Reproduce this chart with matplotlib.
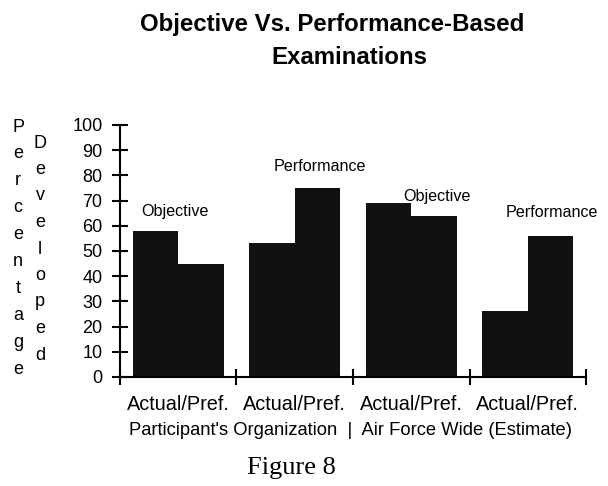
import numpy as np
import matplotlib
matplotlib.use('Agg')
import matplotlib.pyplot as plt

plt.rcParams['font.family'] = ['Liberation Sans', 'DejaVu Sans']

# グループ (Actual/Pref. の組)
groups = ['Actual/Pref.', 'Actual/Pref.', 'Actual/Pref.', 'Actual/Pref.']
actual = [58, 53, 69, 26]
preferred = [45, 75, 64, 56]
group_labels = ['Objective', 'Performance', 'Objective', 'Performance']
yticks = [0, 10, 20, 30, 40, 50, 60, 70, 80, 90, 100]

fig = plt.figure(figsize=(6.08, 4.86), dpi=100)
ax = fig.add_axes([0.197, 0.2243, 0.767, 0.5185])

x = np.arange(len(groups))
w = 0.39
ax.bar(x - w / 2, actual, w, color='#111111', edgecolor='none')
ax.bar(x + w / 2, preferred, w, color='#111111', edgecolor='none')

ax.set_xlim(-0.5, len(groups) - 0.5)
ax.set_ylim(0, 100)
ax.set_yticks(yticks)
ax.set_xticks(x)
ax.set_xticklabels(groups, fontsize=14.3)
ax.set_xticks(np.arange(len(groups) + 1) - 0.5, minor=True)
ax.tick_params(axis='x', which='major', length=0, pad=13)
ax.tick_params(axis='x', which='minor', direction='inout', length=11, width=1.5)
ax.tick_params(axis='y', direction='inout', length=11, width=1.5, labelsize=13, pad=7)

for s in ['top', 'right']:
    ax.spines[s].set_visible(False)
for s in ['left', 'bottom']:
    ax.spines[s].set_linewidth(1.5)

# グループ名
lab_pos = [(-0.03, 65.5), (1.22, 83.5), (2.22, 71.5), (3.21, 65.2)]
for (lx, ly), t in zip(lab_pos, group_labels):
    ax.text(lx, ly, t, ha='center', va='center', fontsize=11.6)

# タイトル
fig.text(0.546, 0.949, 'Objective Vs. Performance-Based', ha='center', va='center',
         fontsize=17.3, fontweight='bold')
fig.text(0.574, 0.881, 'Examinations', ha='center', va='center',
         fontsize=17.3, fontweight='bold')

# 縦書きラベル
for i, ch in enumerate('Percentage'):
    fig.text(0.030, 1 - (127 + i * 26.9) / 486, ch, ha='center', va='center', fontsize=13)
for i, ch in enumerate('Developed'):
    fig.text(0.066, 1 - (143 + i * 26.5) / 486, ch, ha='center', va='center', fontsize=13)

fig.text(0.577, 0.115, "Participant's Organization  |  Air Force Wide (Estimate)",
         ha='center', va='center', fontsize=13.2)
fig.text(0.479, 0.037, 'Figure 8', ha='center', va='center', fontsize=19,
         family=['Liberation Serif', 'DejaVu Serif'])

fig.savefig('out.png', dpi=100)
